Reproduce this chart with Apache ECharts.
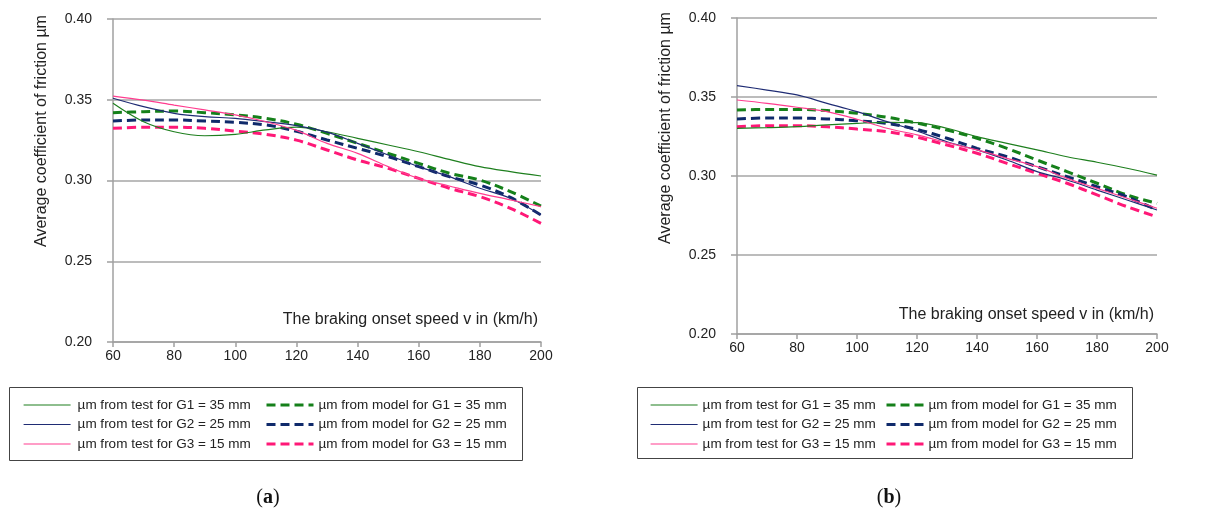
<!DOCTYPE html>
<html>
<head>
<meta charset="utf-8">
<script src="https://cdn.jsdelivr.net/npm/echarts@6/dist/echarts.min.js"></script>
<style>
  html, body { margin: 0; padding: 0; background: #fff; }
  #main { width: 1214px; height: 514px; }
</style>
</head>
<body>
<div id="main"></div>
<script>
// braking onset speed (km/h)
var speeds = [60, 70, 80, 90, 100, 110, 120, 130, 140, 150, 160, 170, 180, 190, 200];
var yTicks = [0.20, 0.25, 0.30, 0.35, 0.40];

// (a)
var greenTestA = [0.3478, 0.3364, 0.3302, 0.3277, 0.3286, 0.3313, 0.3330, 0.3302, 0.3261, 0.3220, 0.3178, 0.3131, 0.3086, 0.3055, 0.3028];
var blueTestA = [0.3509, 0.3457, 0.3416, 0.3395, 0.3385, 0.3364, 0.3340, 0.3300, 0.3230, 0.3158, 0.3086, 0.3024, 0.2952, 0.2890, 0.2786];
var pinkTestA = [0.3523, 0.3498, 0.3467, 0.3437, 0.3406, 0.3364, 0.3310, 0.3230, 0.3168, 0.3086, 0.3013, 0.2966, 0.2920, 0.2880, 0.2838];
var greenModelA = [0.3420, 0.3426, 0.3430, 0.3420, 0.3406, 0.3385, 0.3348, 0.3292, 0.3230, 0.3168, 0.3106, 0.3045, 0.3003, 0.2931, 0.2842];
var blueModelA = [0.3368, 0.3375, 0.3375, 0.3368, 0.3360, 0.3344, 0.3305, 0.3251, 0.3199, 0.3147, 0.3086, 0.3024, 0.2972, 0.2895, 0.2786];
var pinkModelA = [0.3323, 0.3330, 0.3330, 0.3323, 0.3306, 0.3286, 0.3250, 0.3189, 0.3127, 0.3075, 0.3013, 0.2952, 0.2900, 0.2828, 0.2734];

// (b)
var greenTestB = [0.3302, 0.3306, 0.3312, 0.3323, 0.3333, 0.3340, 0.3338, 0.3302, 0.3249, 0.3207, 0.3165, 0.3122, 0.3087, 0.3049, 0.3006];
var blueTestB = [0.3572, 0.3544, 0.3513, 0.3460, 0.3407, 0.3344, 0.3285, 0.3217, 0.3165, 0.3101, 0.3028, 0.2975, 0.2911, 0.2848, 0.2785];
var pinkTestB = [0.3481, 0.3460, 0.3435, 0.3407, 0.3359, 0.3302, 0.3260, 0.3211, 0.3165, 0.3112, 0.3059, 0.2985, 0.2922, 0.2859, 0.2796];
var greenModelB = [0.3418, 0.3421, 0.3421, 0.3414, 0.3397, 0.3372, 0.3335, 0.3291, 0.3239, 0.3175, 0.3101, 0.3028, 0.2954, 0.2880, 0.2827];
var blueModelB = [0.3361, 0.3367, 0.3367, 0.3361, 0.3350, 0.3333, 0.3295, 0.3239, 0.3175, 0.3122, 0.3059, 0.2996, 0.2932, 0.2869, 0.2785];
var pinkModelB = [0.3312, 0.3318, 0.3318, 0.3312, 0.3297, 0.3280, 0.3245, 0.3196, 0.3144, 0.3080, 0.3017, 0.2954, 0.2880, 0.2806, 0.2742];

var testNames = ['µm from test for G1 = 35 mm', 'µm from test for G2 = 25 mm', 'µm from test for G3 = 15 mm'];
var modelNames = ['µm from model for G1 = 35 mm', 'µm from model for G2 = 25 mm', 'µm from model for G3 = 15 mm'];
var testColors = ['#1e7f1e', '#1f2c74', '#ff3d8f'];
var modelColors = ['#15801a', '#0f2a6b', '#ff1877'];

var FONT = 'Liberation Sans, Arial, sans-serif';

var pairs = function (vals) {
  return speeds.map(function (s, i) { return [s, vals[i]]; });
};

var line = function (name, idx, vals, color, dashed) {
  return {
    name: name,
    type: 'line',
    xAxisIndex: idx,
    yAxisIndex: idx,
    data: pairs(vals),
    smooth: 0.35,
    symbol: 'none',
    silent: true,
    z: dashed ? 3 : 4,
    itemStyle: {color: color},
    lineStyle: dashed
      ? {color: color, width: 3, type: [9, 5]}
      : {color: color, width: 1.2}
  };
};

var xAxisOf = function (idx) {
  return {
    type: 'value', gridIndex: idx, min: 60, max: 200, interval: 20,
    axisLine: {lineStyle: {color: '#a0a0a0', width: 1.5}},
    axisTick: {length: 5, lineStyle: {color: '#a0a0a0', width: 1.5}},
    axisLabel: {color: '#222', fontFamily: FONT, fontSize: 14, margin: 7},
    splitLine: {show: false}
  };
};

var yAxisOf = function (idx) {
  return {
    type: 'value', gridIndex: idx, min: yTicks[0], max: yTicks[yTicks.length - 1], interval: 0.05,
    axisLine: {show: true, lineStyle: {color: '#a0a0a0', width: 1.5}},
    axisTick: {show: true, length: 6, lineStyle: {color: '#a0a0a0', width: 1.5}},
    axisLabel: {color: '#222', fontFamily: FONT, fontSize: 14, margin: 21,
      formatter: function (v) { return v.toFixed(2); }},
    splitLine: {lineStyle: {color: '#a6a6a6', width: 1.5}}
  };
};

// one legend column; the symbol dot of the line icon is hidden
var legendOf = function (names, left, width, pad, dashed) {
  return {
    orient: 'vertical', left: left, top: 393,
    itemWidth: width, itemHeight: 12, itemGap: 5.5,
    selectedMode: false,
    itemStyle: {opacity: 0},
    lineStyle: {width: dashed ? 3 : 1.2},
    textStyle: {color: '#222', fontFamily: FONT, fontSize: 13.5, padding: [0, 0, 0, pad]},
    data: names
  };
};

var chart = echarts.init(document.getElementById('main'));

var series = [
  line(testNames[0], 0, greenTestA, testColors[0], false),
  line(testNames[1], 0, blueTestA, testColors[1], false),
  line(testNames[2], 0, pinkTestA, testColors[2], false),
  line(modelNames[0], 0, greenModelA, modelColors[0], true),
  line(modelNames[1], 0, blueModelA, modelColors[1], true),
  line(modelNames[2], 0, pinkModelA, modelColors[2], true),
  line(testNames[0], 1, greenTestB, testColors[0], false),
  line(testNames[1], 1, blueTestB, testColors[1], false),
  line(testNames[2], 1, pinkTestB, testColors[2], false),
  line(modelNames[0], 1, greenModelB, modelColors[0], true),
  line(modelNames[1], 1, blueModelB, modelColors[1], true),
  line(modelNames[2], 1, pinkModelB, modelColors[2], true)
];

var yName = function (x, y) {
  return {type: 'text', x: x, y: y, rotation: Math.PI / 2,
    style: {text: 'Average coefficient of friction µm', fill: '#222', font: '16px ' + FONT,
      align: 'center', verticalAlign: 'middle'}};
};
var xName = function (x, y) {
  return {type: 'text', x: x, y: y,
    style: {text: 'The braking onset speed v in (km/h)', fill: '#222', font: '16px ' + FONT,
      align: 'right', verticalAlign: 'middle'}};
};
var box = function (x, y, w, h) {
  return {type: 'rect', shape: {x: x, y: y, width: w, height: h}, z: -1,
    style: {fill: '#fff', stroke: '#444', lineWidth: 1}};
};
var caption = function (x, letter) {
  return {type: 'text', x: x, y: 498,
    style: {text: '({b|' + letter + '})', fill: '#111', font: '20px Liberation Serif, serif',
      align: 'center', verticalAlign: 'middle',
      rich: {b: {fontWeight: 'bold', fontSize: 20, fontFamily: 'Liberation Serif, serif', fill: '#111'}}}};
};

var option = {
  animation: false,
  grid: [
    {left: 113, top: 19, width: 428, height: 323},
    {left: 737, top: 18, width: 420, height: 316}
  ],
  xAxis: [xAxisOf(0), xAxisOf(1)],
  yAxis: [yAxisOf(0), yAxisOf(1)],
  legend: [
    legendOf(testNames, 18, 47, 2, false),
    legendOf(modelNames, 260, 47, 0, true),
    legendOf(testNames, 645, 47, 0, false),
    legendOf(modelNames, 880, 37, 0, true)
  ],
  graphic: [
    box(9.5, 387.5, 513, 73),
    box(637.5, 387.5, 495, 71),
    yName(42, 131),
    yName(666, 128),
    xName(538, 320),
    xName(1154, 315),
    caption(268, 'a'),
    caption(889, 'b')
  ],
  series: series
};

chart.setOption(option);
</script>
</body>
</html>
